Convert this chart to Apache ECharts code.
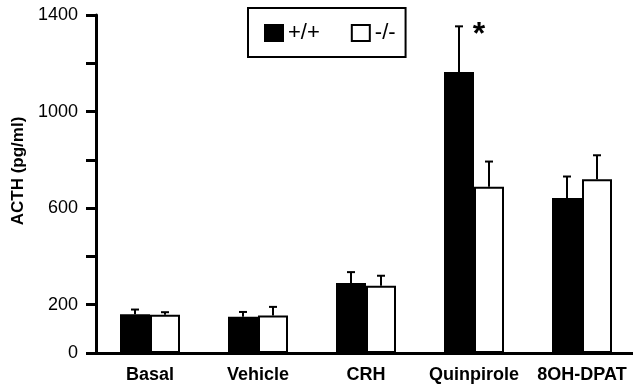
<!DOCTYPE html>
<html>
<head>
<meta charset="utf-8">
<script src="https://cdn.jsdelivr.net/npm/echarts@6/dist/echarts.min.js"></script>
<style>
html,body{margin:0;padding:0;background:#fff;}
#chart{width:633px;height:390px;}
</style>
</head>
<body>
<div id="chart"></div>
<script>
var categories = ['Basal', 'Vehicle', 'CRH', 'Quinpirole', '8OH-DPAT'];
var wildMean = [160, 150, 290, 1164, 642];
var wildErr = [20, 20, 45, 189, 89];
var koMean = [158, 155, 279, 689, 720];
var koErr = [11, 36, 41, 104, 99];
var yTickLabels = [0, 200, 600, 1000, 1400];
var seriesNames = ['+/+', '-/-'];
var starCategory = 'Quinpirole';
var starValue = 1346;

var FONT = '"Liberation Sans", Arial, Helvetica, sans-serif';
var BAR_W = 30;

function errData(means, errs) {
  return means.map(function (m, i) { return [i, m, m + errs[i]]; });
}

function errRenderer(offset) {
  return function (params, api) {
    var idx = api.value(0);
    var base = api.coord([idx, api.value(1)]);
    var top = api.coord([idx, api.value(2)]);
    var x = base[0] + offset;
    var style = { stroke: '#000', lineWidth: 2 };
    return {
      type: 'group',
      children: [
        { type: 'line', shape: { x1: x, y1: base[1], x2: x, y2: top[1] }, style: style },
        { type: 'line', shape: { x1: x - 4, y1: top[1], x2: x + 4, y2: top[1] }, style: style }
      ]
    };
  };
}

var chart = echarts.init(document.getElementById('chart'), null, { renderer: 'canvas' });
var option = {
  animation: false,
  backgroundColor: '#fff',
  grid: { left: 96, top: 15, width: 540, bottom: 37, containLabel: false, outerBoundsMode: 'none' },
  legend: {
    left: 248, top: 8,
    data: seriesNames,
    icon: 'rect',
    itemWidth: 18, itemHeight: 16,
    itemGap: 31,
    padding: [14, 10, 13, 16],
    borderColor: '#000', borderWidth: 2,
    textStyle: { fontFamily: FONT, fontSize: 22, color: '#000' }
  },
  xAxis: {
    type: 'category',
    data: categories,
    axisLine: { lineStyle: { color: '#000', width: 3 } },
    axisTick: { alignWithLabel: true, length: 9, lineStyle: { color: '#000', width: 3 } },
    axisLabel: { fontFamily: FONT, fontSize: 18, fontWeight: 'bold', color: '#000', margin: 13, interval: 0 }
  },
  yAxis: {
    type: 'value',
    min: 0, max: 1400, interval: 200,
    name: 'ACTH (pg/ml)',
    nameLocation: 'middle',
    nameGap: 69,
    nameTextStyle: { fontFamily: FONT, fontSize: 17, fontWeight: 'bold', color: '#000', padding: [0, 0, 0, 26] },
    axisLine: { show: true, lineStyle: { color: '#000', width: 3 } },
    axisTick: { show: true, length: 10, lineStyle: { color: '#000', width: 3 } },
    splitLine: { show: false },
    axisLabel: {
      fontFamily: FONT, fontSize: 18, color: '#000', margin: 18,
      formatter: function (v) { return yTickLabels.indexOf(v) >= 0 ? String(v) : ''; }
    }
  },
  series: [
    {
      name: seriesNames[0], type: 'bar', data: wildMean,
      barWidth: BAR_W, barGap: '0%',
      itemStyle: { color: '#000', borderColor: '#000', borderWidth: 2 },
      z: 2
    },
    {
      name: seriesNames[1], type: 'bar', data: koMean,
      barWidth: BAR_W,
      itemStyle: { color: '#fff', borderColor: '#000', borderWidth: 2 },
      z: 2
    },
    {
      type: 'custom', data: errData(wildMean, wildErr),
      renderItem: errRenderer(-BAR_W / 2), encode: { x: 0, y: 2 }, z: 3, silent: true
    },
    {
      type: 'custom', data: errData(koMean, koErr),
      renderItem: errRenderer(BAR_W / 2), encode: { x: 0, y: 2 }, z: 3, silent: true
    }
  ]
};
chart.setOption(option);
var p = chart.convertToPixel({ gridIndex: 0 }, [starCategory, starValue]);
chart.setOption({
  graphic: [{
    type: 'text', x: p[0] + 5, y: p[1] + 7, z: 10,
    style: { text: '*', fontFamily: FONT, fontSize: 32, fontWeight: 'bold', fill: '#000', align: 'center', verticalAlign: 'middle' }
  }]
});
</script>
</body>
</html>
